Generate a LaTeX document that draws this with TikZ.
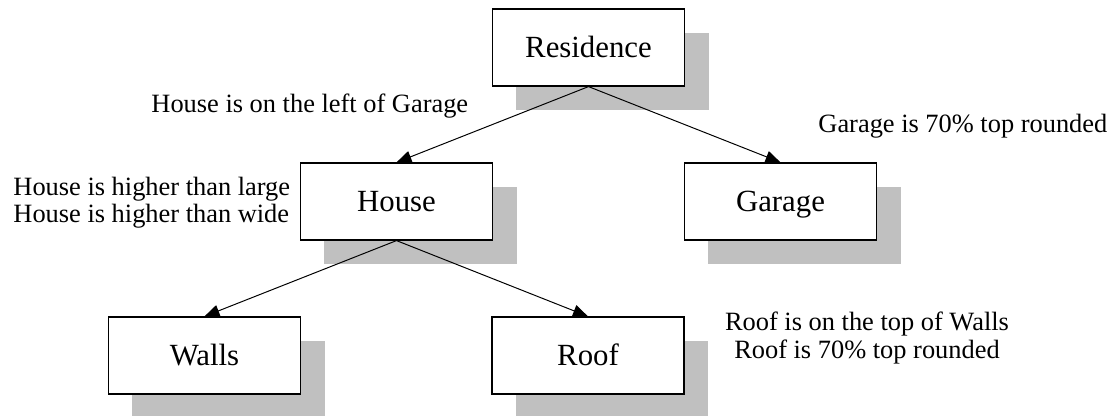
\documentclass[tikz,border=0pt]{standalone}
\usepackage{fontspec}
\setmainfont{Liberation Serif}
\usetikzlibrary{shadows,arrows.meta}
\definecolor{shadowgray}{RGB}{192,192,192}
\tikzset{
  part/.style={draw, line width=0.55pt, fill=white,
    minimum width=87.3pt, minimum height=35pt, inner sep=0pt,
    text height=9.5pt, text depth=0pt,
    font=\fontsize{14}{16}\selectfont,
    drop shadow={shadow xshift=10.9pt, shadow yshift=-10.9pt,
      fill=shadowgray, opacity=1}},
  link/.style={line width=0.45pt, -{Triangle[length=6.8pt,width=5.5pt]}},
  note/.style={inner sep=0pt, font=\fontsize{12}{12.3}\selectfont}
}
\begin{document}
\begin{tikzpicture}[x={(0.4545pt,0)}, y={(0,-0.4545pt)}]
  \useasboundingbox (0,0) rectangle (1115,416);

  % hierarchy boxes
  \node[part] (res)    at (588.5, 47.5)  {Residence};
  \node[part] (house)  at (396.5, 201.5) {House};
  \node[part] (garage) at (780.5, 201.5) {Garage};
  \node[part] (walls)  at (204.5, 355.5) {Walls};
  \node[part] (roof)   at (588,   355.5) {Roof};

  % parent-to-child links
  \draw[link] (res.south)   -- (house.north);
  \draw[link] (res.south)   -- (garage.north);
  \draw[link] (house.south) -- (walls.north);
  \draw[link] (house.south) -- (roof.north);

  % constraint notes
  \node[note, anchor=base west] (nleft) at (151, 113) {House is on the left of Garage};
  \node[note, anchor=base west] (ngar)  at (818, 133) {Garage is 70\% top rounded};
  \node[note, anchor=west, align=left] (nhouse) at (13, 202.5)
    {House is higher than large\\House is higher than wide};
  \node[note, align=center] (nroof) at (867, 338)
    {Roof is on the top of Walls\\Roof is 70\% top rounded};
\end{tikzpicture}
\end{document}
